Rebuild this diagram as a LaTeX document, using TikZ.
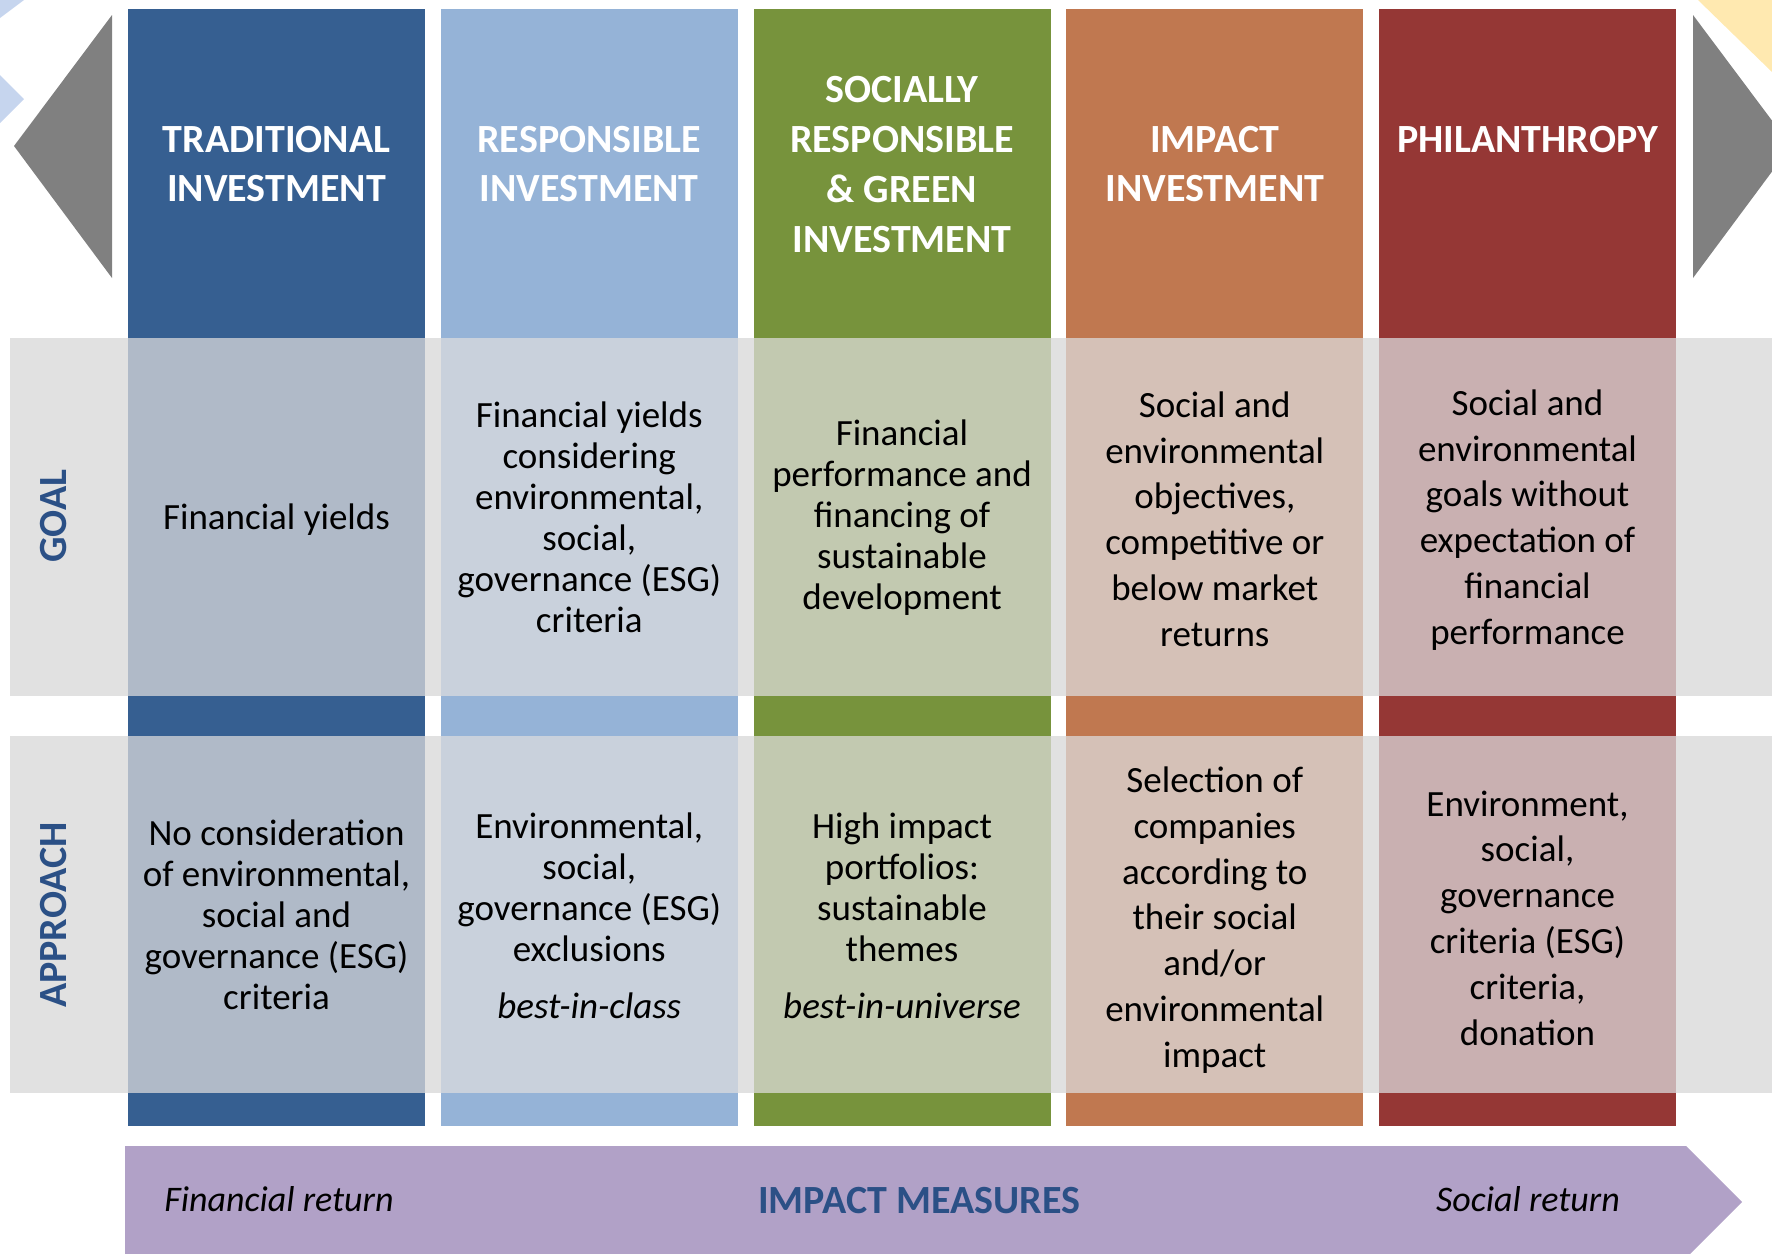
\documentclass[tikz,border=0pt]{standalone}
\usepackage{fontspec}
\setmainfont{Carlito}
\definecolor{c1}{HTML}{365F91}\definecolor{t1}{HTML}{B0BAC8}
\definecolor{c2}{HTML}{95B3D7}\definecolor{t2}{HTML}{C9D1DC}
\definecolor{c3}{HTML}{77933C}\definecolor{t3}{HTML}{C2C9B0}
\definecolor{c4}{HTML}{C07850}\definecolor{t4}{HTML}{D5C1B7}
\definecolor{c5}{HTML}{953735}\definecolor{t5}{HTML}{C9B0B1}
\definecolor{bandgray}{HTML}{E1E1E1}
\definecolor{arrowgray}{HTML}{808080}
\definecolor{purplearrow}{HTML}{B1A1C7}
\definecolor{labblue}{HTML}{2B5086}
\definecolor{lightbluebg}{HTML}{C6D5EE}
\definecolor{yellowbg}{HTML}{FFE9B0}
\begin{document}
\begin{tikzpicture}[x=0.5pt,y=-0.5pt,
  hdr/.style={text=white,font=\fontsize{20}{24.85}\selectfont\bfseries,align=center,inner sep=0pt},
  bodyA/.style={text=black,font=\fontsize{18.5}{20.5}\selectfont,align=center,inner sep=0pt},
  bodyB/.style={text=black,font=\fontsize{18.5}{22.9}\selectfont,align=center,inner sep=0pt},
  rowlab/.style={text=labblue,font=\fontsize{20}{24}\selectfont\bfseries,rotate=90,inner sep=0pt},
  retlab/.style={text=black,font=\fontsize{18}{22}\selectfont\itshape,inner sep=0pt},
]
\useasboundingbox (0,0) rectangle (1772,1253);
\clip (0,0) rectangle (1772,1253);
% background decorations
\fill[lightbluebg] (0,0) -- (24,0) -- (0,18) -- cycle;
\fill[lightbluebg] (0,75) -- (24,99) -- (0,123) -- cycle;
\fill[yellowbg] (1698,0) -- (1772,0) -- (1772,72) -- cycle;
% side triangles
\fill[arrowgray] (112,15) -- (112,278) -- (14,146) -- cycle;
\fill[arrowgray] (1693,15) -- (1693,278) -- (1791,146) -- cycle;
% gray bands
\fill[bandgray] (10,338) rectangle (1772,696);
\fill[bandgray] (10,736) rectangle (1772,1093);
% columns
\foreach \i/\cc/\tc in {0/c1/t1,1/c2/t2,2/c3/t3,3/c4/t4,4/c5/t5}{
  \pgfmathsetmacro\xl{128+312.75*\i}
  \fill[\cc] (\xl,9) rectangle ++(297,329);
  \fill[\tc] (\xl,338) rectangle ++(297,358);
  \fill[\cc] (\xl,696) rectangle ++(297,40);
  \fill[\tc] (\xl,736) rectangle ++(297,357);
  \fill[\cc] (\xl,1093) rectangle ++(297,33);
}
% bottom arrow
\fill[purplearrow] (125,1146) -- (1686,1146) -- (1742,1202) -- (1686,1258) -- (125,1258) -- cycle;
% headers
\node[hdr] (h1) at (276.5,164) {TRADITIONAL\\INVESTMENT};
\node[hdr] (h2) at (589.25,164) {RESPONSIBLE\\INVESTMENT};
\node[hdr] (h3) at (902,164.5) {SOCIALLY\\RESPONSIBLE\\\&~GREEN\\INVESTMENT};
\node[hdr] (h4) at (1214.75,164) {IMPACT\\INVESTMENT};
\node[hdr] (h5) at (1527.5,140) {PHILANTHROPY};
% row labels
\node[rowlab] (goal) at (54,516) {GOAL};
\node[rowlab] (approach) at (54,915) {APPROACH};
% goals
\node[bodyA] (g1) at (276.5,520) {Financial yields};
\node[bodyA] (g2) at (589.25,517) {Financial yields\\considering\\environmental,\\social,\\governance (ESG)\\criteria};
\node[bodyA] (g3) at (902,518) {Financial\\performance and\\financing of\\sustainable\\development};
\node[bodyB] (g4) at (1214.75,519) {Social and\\environmental\\objectives,\\competitive or\\below market\\returns};
\node[bodyB] (g5) at (1527.5,520) {Social and\\environmental\\goals without\\expectation of\\financial\\performance};
% approaches
\node[bodyA] (a1) at (276.5,915) {No consideration\\of environmental,\\social and\\governance (ESG)\\criteria};
\node[bodyA] (a2) at (589.25,916) {Environmental,\\social,\\governance (ESG)\\exclusions\\[8pt]\textit{best-in-class}};
\node[bodyA] (a3) at (902,916) {High impact\\portfolios:\\sustainable\\themes\\[8pt]\textit{best-in-universe}};
\node[bodyB] (a4) at (1214.75,920) {Selection of\\companies\\according to\\their social\\and/or\\environmental\\impact};
\node[bodyB] (a5) at (1527.5,918) {Environment,\\social,\\governance\\criteria (ESG)\\criteria,\\donation};
% bottom arrow labels
\node[retlab] (finret) at (279,1199) {Financial return};
\node[text=labblue,font=\fontsize{20}{24}\selectfont\bfseries,inner sep=0pt] (impact) at (919,1201) {IMPACT MEASURES};
\node[retlab] (socret) at (1528,1199) {Social return};
\end{tikzpicture}
\end{document}
